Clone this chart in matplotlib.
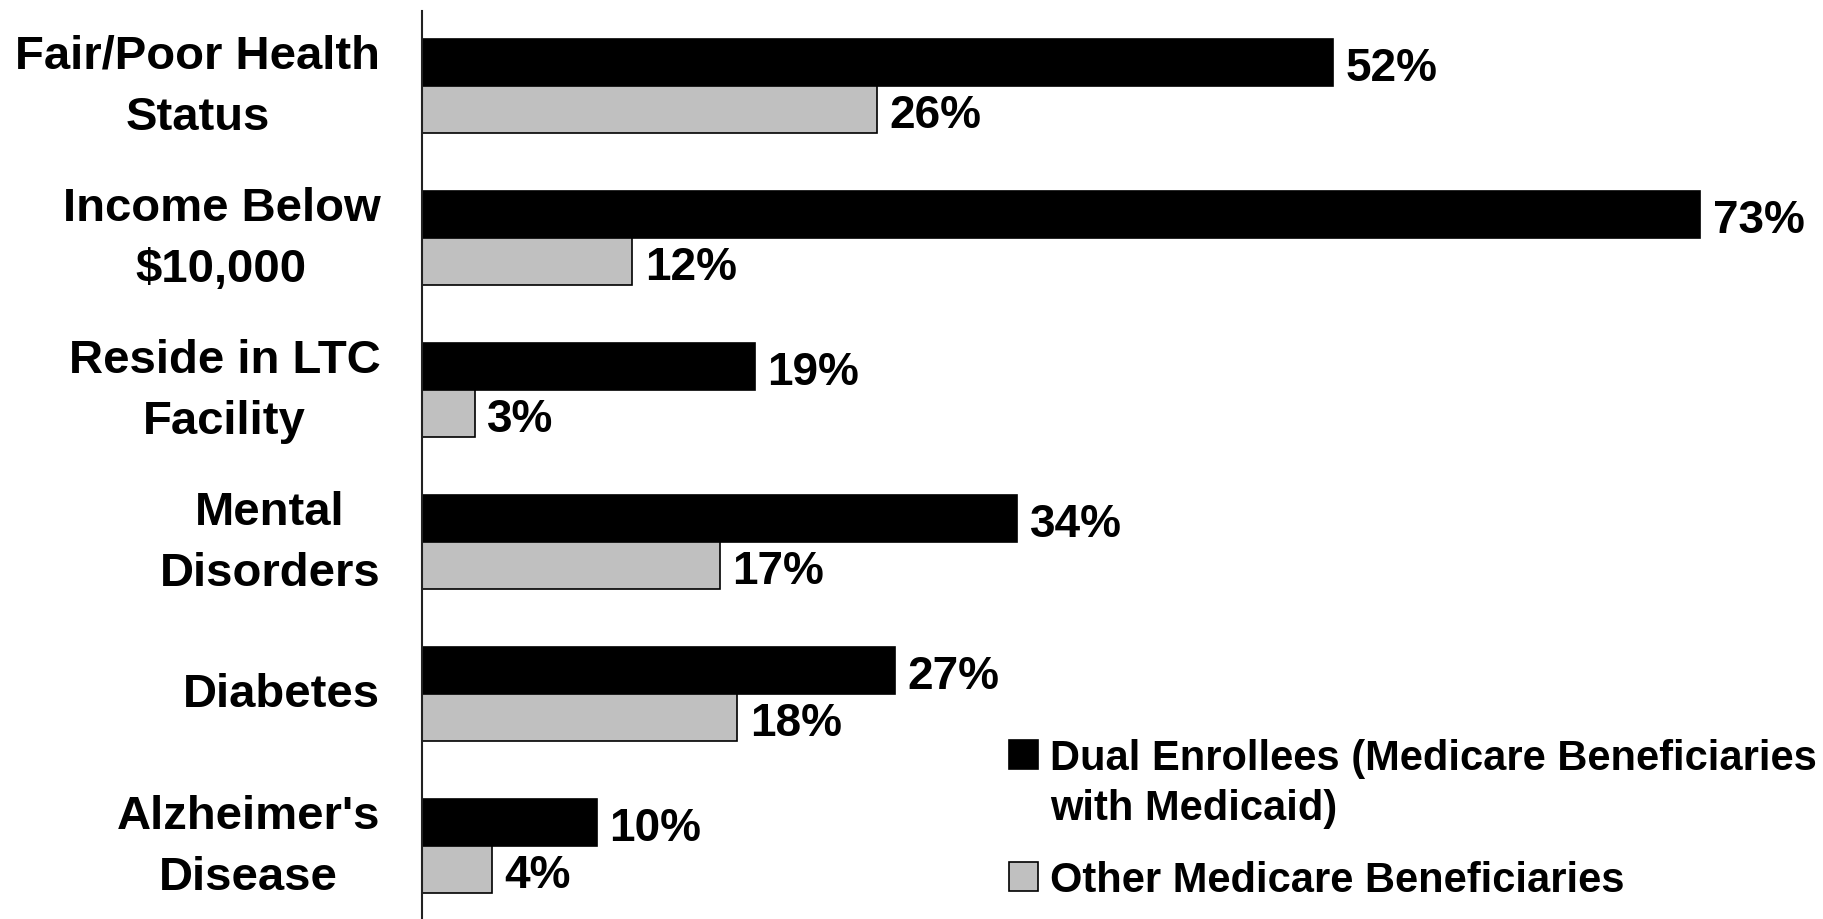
import matplotlib
matplotlib.use("Agg")
import matplotlib.pyplot as plt
from matplotlib.patches import Rectangle
import numpy as np

plt.rcParams['font.family'] = ['Liberation Sans', 'DejaVu Sans']
plt.rcParams['font.weight'] = 'bold'

categories = [
    "Fair/Poor Health\nStatus",
    "Income Below\n$10,000",
    "Reside in LTC\nFacility",
    "Mental\nDisorders",
    "Diabetes",
    "Alzheimer's\nDisease",
]
dual_enrollees = [52, 73, 19, 34, 27, 10]
other_beneficiaries = [26, 12, 3, 17, 18, 4]
series_names = [
    "Dual Enrollees (Medicare Beneficiaries\nwith Medicaid)",
    "Other Medicare Beneficiaries",
]
colors = ["#000000", "#C0C0C0"]

fig = plt.figure(figsize=(18.23, 9.2), dpi=100)
ax = fig.add_axes([422 / 1823, 0.0, 1 - 422 / 1823, 1 - 12 / 920])

y = np.arange(len(categories))
h = 0.31
bars_dual = ax.barh(y - h / 2, dual_enrollees, height=h, color=colors[0],
                    edgecolor="black", linewidth=1.2)
bars_other = ax.barh(y + h / 2, other_beneficiaries, height=h, color=colors[1],
                     edgecolor="black", linewidth=1.2)

for bars, vals in ((bars_dual, dual_enrollees), (bars_other, other_beneficiaries)):
    for b, v in zip(bars, vals):
        ax.annotate(f"{v}%", xy=(v, b.get_y() + b.get_height() / 2),
                    xytext=(9, 0), textcoords="offset points",
                    ha="left", va="center_baseline", fontsize=33,
                    fontweight="bold", color="black")

ax.set_xlim(0, 80.0)
ax.set_ylim(5.48, -0.495)
ax.set_yticks(y)
ax.set_yticklabels(categories, fontsize=34, fontweight="bold",
                   multialignment="center", linespacing=1.5)
for lbl in ax.get_yticklabels():
    lbl.set_verticalalignment("center")
ax.tick_params(axis="y", length=0, pad=30)
ax.xaxis.set_visible(False)
for s in ("top", "right", "bottom"):
    ax.spines[s].set_visible(False)
ax.spines["left"].set_linewidth(1.5)
ax.spines["left"].set_color("#222222")

# legend drawn in figure pixels
W, H = 1823, 920
sq = 29
entries = [(755, series_names[0]), (877, series_names[1])]
for (yc, label), col in zip(entries, colors):
    fig.add_artist(Rectangle(((1009) / W, 1 - (yc + sq / 2) / H), sq / W, sq / H,
                             transform=fig.transFigure, facecolor=col,
                             edgecolor="black", linewidth=1.2))
    lines = label.split("\n")
    for k, line in enumerate(lines):
        fig.text(1050 / W, 1 - (yc + 50 * k) / H, line, fontsize=30,
                 fontweight="bold", ha="left", va="center_baseline")

fig.savefig("out.png", dpi=100)
